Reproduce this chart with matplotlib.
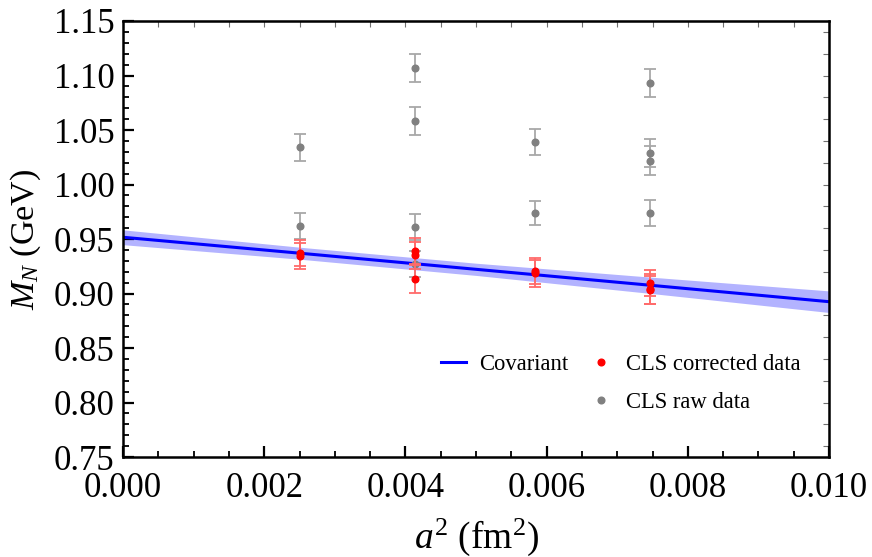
import matplotlib
matplotlib.use("Agg")
import matplotlib.pyplot as plt
from matplotlib.lines import Line2D
import numpy as np

plt.rcParams['font.family'] = ['Liberation Serif', 'DejaVu Serif']
plt.rcParams['mathtext.fontset'] = 'custom'
plt.rcParams['mathtext.rm'] = 'Liberation Serif'
plt.rcParams['mathtext.it'] = 'Liberation Serif:italic'

# covariant fit: central line and half-width of the band
fit_a2 = [0.0, 0.0025, 0.005, 0.0075, 0.010]
fit_mn = [0.9516, 0.9370, 0.9222, 0.9074, 0.8925]
fit_err = [0.0068, 0.0055, 0.0056, 0.0075, 0.0099]

# CLS raw data
raw_a2 = [0.00250, 0.00250, 0.00413, 0.00413, 0.00413, 0.00413,
          0.00583, 0.00583, 0.00746, 0.00746, 0.00746, 0.00746]
raw_mn = [1.034, 0.962, 1.107, 1.058, 0.961, 0.927,
          1.039, 0.974, 1.093, 1.029, 1.022, 0.974]
raw_err = [0.012, 0.012, 0.013, 0.013, 0.012, 0.012,
           0.012, 0.011, 0.013, 0.013, 0.013, 0.012]

# CLS corrected data
cor_a2 = [0.00250, 0.00250, 0.00413, 0.00413, 0.00413,
          0.00583, 0.00583, 0.00746, 0.00746, 0.00746]
cor_mn = [0.9374, 0.9347, 0.9390, 0.9349, 0.9133,
          0.9204, 0.9184, 0.9094, 0.9040, 0.9032]
cor_err = [0.012, 0.012, 0.012, 0.012, 0.013,
           0.012, 0.012, 0.012, 0.014, 0.013]

fig = plt.figure(figsize=(8.72, 5.57), dpi=100)
ax = fig.add_axes([0.1411, 0.1795, 0.8096, 0.7828])

fit_lo = np.array(fit_mn) - np.array(fit_err)
fit_hi = np.array(fit_mn) + np.array(fit_err)
ax.fill_between(fit_a2, fit_lo, fit_hi, color=(0.7, 0.7, 1.0), lw=0, zorder=1)
ax.plot(fit_a2, fit_mn, color='#0000ff', lw=2.2, zorder=2)

ax.errorbar(raw_a2, raw_mn, yerr=raw_err, fmt='o', ms=4.8, color='#808080',
            ecolor='#a8a8a8', elinewidth=1.3, capsize=4.6, capthick=1.3, zorder=3)
ax.errorbar(cor_a2, cor_mn, yerr=cor_err, fmt='o', ms=4.8, color='#ff0000',
            ecolor='#ff6a6a', elinewidth=1.3, capsize=4.6, capthick=1.3, zorder=4)

ax.set_xlim(0, 0.010)
ax.set_ylim(0.75, 1.15)
ax.set_xticks(np.arange(0, 0.0101, 0.002))
ax.set_xticklabels(['%.3f' % v for v in np.arange(0, 0.0101, 0.002)])
ax.set_xticks(np.arange(0, 0.0101, 0.0005), minor=True)
ax.set_yticks(np.arange(0.75, 1.151, 0.05))
ax.set_yticklabels(['%.2f' % v for v in np.arange(0.75, 1.151, 0.05)])
ax.set_yticks(np.arange(0.75, 1.151, 0.01), minor=True)

ax.tick_params(which='both', direction='in', top=False, right=False,
               labelsize=25, color='black')
ax.tick_params(which='major', length=8, width=1.6)
ax.tick_params(which='minor', length=4.5, width=1.3)
ax.tick_params(axis='y', pad=6)
ax.tick_params(axis='x', pad=11)

for sp in ax.spines.values():
    sp.set_linewidth(1.8)

top = ax.secondary_xaxis('top')
top.set_xticks(np.arange(0, 0.0101, 0.0005))
top.tick_params(direction='in', length=4, width=0.8, color='#707070',
                labeltop=False)
right = ax.secondary_yaxis('right')
right.set_yticks(np.arange(0.76, 1.15, 0.02))
right.tick_params(direction='in', length=4, width=0.8, color='#707070',
                  labelright=False)

ax.set_xlabel('$a^2$ (fm$^2$)', fontsize=27, labelpad=8)
ax.set_ylabel('$M_N$ (GeV)', fontsize=24.5, labelpad=8)

handles = [
    Line2D([], [], color='#0000ff', lw=2.2),
    Line2D([], [], color='none', lw=0),
    Line2D([], [], color='#ff0000', marker='o', ms=4.8, lw=0),
    Line2D([], [], color='#808080', marker='o', ms=4.8, lw=0),
]
labels = ['Covariant', '', 'CLS corrected data', 'CLS raw data']
ax.legend(handles, labels, ncol=2, frameon=False, fontsize=16.3,
          loc='lower right', bbox_to_anchor=(0.985, 0.06),
          handlelength=1.1, handletextpad=0.55, columnspacing=0.9,
          labelspacing=0.75, borderpad=0.3)

fig.savefig('out.png', dpi=100)
